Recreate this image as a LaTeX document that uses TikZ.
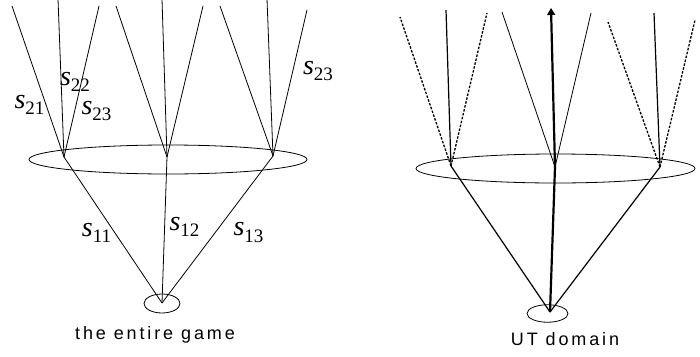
\documentclass[tikz,border=0pt]{standalone}
\usepackage{fontspec}
\setmainfont{Liberation Serif}
\newfontfamily\captfont[LetterSpace=16]{Liberation Sans}
\usetikzlibrary{positioning, arrows.meta, shapes.geometric}
\newcommand{\strat}[1]{\textit{s}\raisebox{-0.22em}{\fontsize{19}{19}\selectfont #1}}

\begin{document}
\begin{tikzpicture}[x=1pt, y=-1pt,
    edge/.style={line width=0.8pt},
    bold/.style={line width=1.2pt},
    dashedge/.style={line width=1.3pt, dash pattern=on 2.5pt off 1.5pt},
    chosen/.style={line width=2.2pt},
    set/.style={draw, ellipse, inner sep=0pt, line width=0.8pt},
    lbl/.style={inner sep=0pt, font=\fontsize{28}{28}\selectfont},
    capt/.style={inner sep=0pt, font=\captfont\fontsize{18}{20}\selectfont},
  ]
    \useasboundingbox (0,0) rectangle (700,356);

    % the entire game
    \node[set, minimum width=36pt, minimum height=19pt] (rootset) at (162,303.5) {};
    \node[set, minimum width=278pt, minimum height=29pt] (infoset) at (168,159.5) {};
    \coordinate (root) at (162,303);
    \coordinate (a) at (64,157);
    \coordinate (b) at (167,157);
    \coordinate (c) at (273,156);
    \foreach \n/\x/\y in {a1/12/6, a2/58/-1, a3/99/6, b1/116/6, b2/162/-1, b3/203/6, c1/220/6, c2/267/-1, c3/307/10}
      \coordinate (\n) at (\x,\y);

    \draw[edge] (root) -- (a);
    \draw[edge] (root) -- (b);
    \draw[edge] (root) -- (c);
    \foreach \p in {a,b,c}
      \foreach \i in {1,2,3}
        \draw[edge] (\p) -- (\p\i);

    \node[lbl] (s11) at (96.5,232.5) {\strat{11}};
    \node[lbl] (s12) at (184.5,227) {\strat{12}};
    \node[lbl] (s13) at (248.5,232.5) {\strat{13}};
    \node[lbl] (s21) at (29.5,105) {\strat{21}};
    \node[lbl] (s22) at (75,81.5) {\strat{22}};
    \node[lbl] (s23) at (96.5,111) {\strat{23}};
    \node[lbl] (s23r) at (318,71) {\strat{23}};
    \node[capt] (game) at (155,335) {the entire game};

    % UT domain
    \node[set, minimum width=41pt, minimum height=17.5pt] (rootsetUT) at (547.5,313.5) {};
    \node[set, minimum width=279pt, minimum height=29pt] (infosetUT) at (555.5,168.5) {};
    \coordinate (rootUT) at (550,312);
    \coordinate (d) at (451,166);
    \coordinate (e) at (555,167);
    \coordinate (f) at (660,167);
    \foreach \n/\x/\y in {d1/400/17, d2/446/10, d3/487/13, e1/502/12, e2/551/8, e3/591/13, f1/608/22, f2/654/13, f3/695/20}
      \coordinate (\n) at (\x,\y);

    \draw[bold] (rootUT) -- (d);
    \draw[chosen] (rootUT) -- (e);
    \draw[bold] (rootUT) -- (f);
    \draw[dashedge] (d) -- (d1);
    \draw[bold] (d) -- (d2);
    \draw[dashedge] (d) -- (d3);
    \draw[edge] (e) -- (e1);
    \draw[chosen, -{Triangle[length=7pt, width=8pt]}] (e) -- (e2);
    \draw[edge] (e) -- (e3);
    \draw[dashedge] (f) -- (f1);
    \draw[bold] (f) -- (f2);
    \draw[dashedge] (f) -- (f3);

    \node[capt] (utdomain) at (565,339) {UT domain};
  \end{tikzpicture}
\end{document}
